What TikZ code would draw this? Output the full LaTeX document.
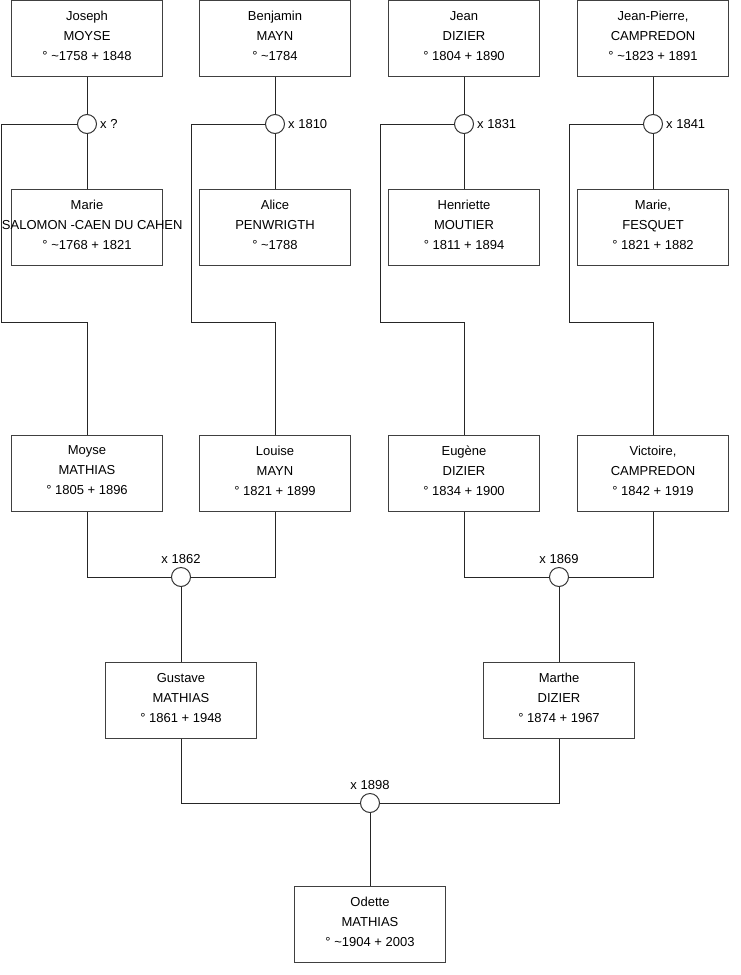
\documentclass[tikz,border=0pt]{standalone}
\usepackage{fontspec}
\setmainfont{Liberation Sans}
\usetikzlibrary{positioning,calc}
\tikzset{
    person/.style={draw=black!75, line width=1pt, fill=white, rectangle,
        minimum width=151pt, minimum height=76pt, inner sep=0pt, text depth=5pt,
        align=center, font=\fontsize{13}{20}\selectfont},
    union/.style={draw=black!80, line width=1pt, fill=white, circle,
        minimum size=19pt, inner sep=0pt},
    every label/.style={font=\fontsize{13}{15}\selectfont, inner sep=3pt},
    link/.style={draw=black!85, line width=1pt}
}
\begin{document}
\begin{tikzpicture}[x=1pt, y=-1pt]
    \useasboundingbox (0,0) rectangle (740,975);

    % grand-grandparents
    \node[person] (joseph) at (87,38.5) {Joseph\\MOYSE\\° \textasciitilde1758 + 1848};
    \node[person] (benjamin) at (275,38.5) {Benjamin\\MAYN\\° \textasciitilde1784};
    \node[person] (jean) at (464,38.5) {Jean\\DIZIER\\° 1804 + 1890};
    \node[person] (jeanpierre) at (653,38.5) {Jean-Pierre,\\CAMPREDON\\° \textasciitilde1823 + 1891};

    \node[person] (marie) at (87,227) {Marie\\\makebox[150pt][l]{\hspace*{-10pt}SALOMON -CAEN DU CAHEN}\\° \textasciitilde1768 + 1821};
    \node[person] (alice) at (275,227) {Alice\\PENWRIGTH\\° \textasciitilde1788};
    \node[person] (henriette) at (464,227) {Henriette\\MOUTIER\\° 1811 + 1894};
    \node[person] (mariefesquet) at (653,227) {Marie,\\FESQUET\\° 1821 + 1882};

    \node[union, label={right:x ?}] (u1) at (87,124) {};
    \node[union, label={right:x 1810}] (u2) at (275,124) {};
    \node[union, label={right:x 1831}] (u3) at (464,124) {};
    \node[union, label={right:x 1841}] (u4) at (653,124) {};

    % grandparents
    \node[person] (moyse) at (87,473) {Moyse\\MATHIAS\\° 1805 + 1896};
    \node[person] (louise) at (275,473) {Louise\\MAYN\\° 1821 + 1899};
    \node[person] (eugene) at (464,473) {Eugène\\DIZIER\\° 1834 + 1900};
    \node[person] (victoire) at (653,473) {Victoire,\\CAMPREDON\\° 1842 + 1919};

    \node[union, label={above:x 1862}] (u5) at (181,577) {};
    \node[union, label={above:x 1869}] (u6) at (559,577) {};

    % parents
    \node[person] (gustave) at (181,700) {Gustave\\MATHIAS\\° 1861 + 1948};
    \node[person] (marthe) at (559,700) {Marthe\\DIZIER\\° 1874 + 1967};

    \node[union, label={above:x 1898}] (u7) at (370,803) {};

    \node[person] (odette) at (370,924.5) {Odette\\MATHIAS\\° \textasciitilde1904 + 2003};

    \coordinate (k1) at (1,322);
    \coordinate (k2) at (191,322);
    \coordinate (k3) at (380,322);
    \coordinate (k4) at (569,322);

    \foreach \a/\u/\b/\k/\c in {joseph/u1/marie/k1/moyse, benjamin/u2/alice/k2/louise,
        jean/u3/henriette/k3/eugene, jeanpierre/u4/mariefesquet/k4/victoire} {
        \draw[link] (\a) -- (\u);
        \draw[link] (\u) -- (\b);
        \draw[link] (\u.west) -| (\k) -| (\c.north);
    }

    \draw[link] (moyse.south) |- (u5.west);
    \draw[link] (louise.south) |- (u5.east);
    \draw[link] (u5) -- (gustave);
    \draw[link] (eugene.south) |- (u6.west);
    \draw[link] (victoire.south) |- (u6.east);
    \draw[link] (u6) -- (marthe);
    \draw[link] (gustave.south) |- (u7.west);
    \draw[link] (marthe.south) |- (u7.east);
    \draw[link] (u7) -- (odette);
\end{tikzpicture}
\end{document}
